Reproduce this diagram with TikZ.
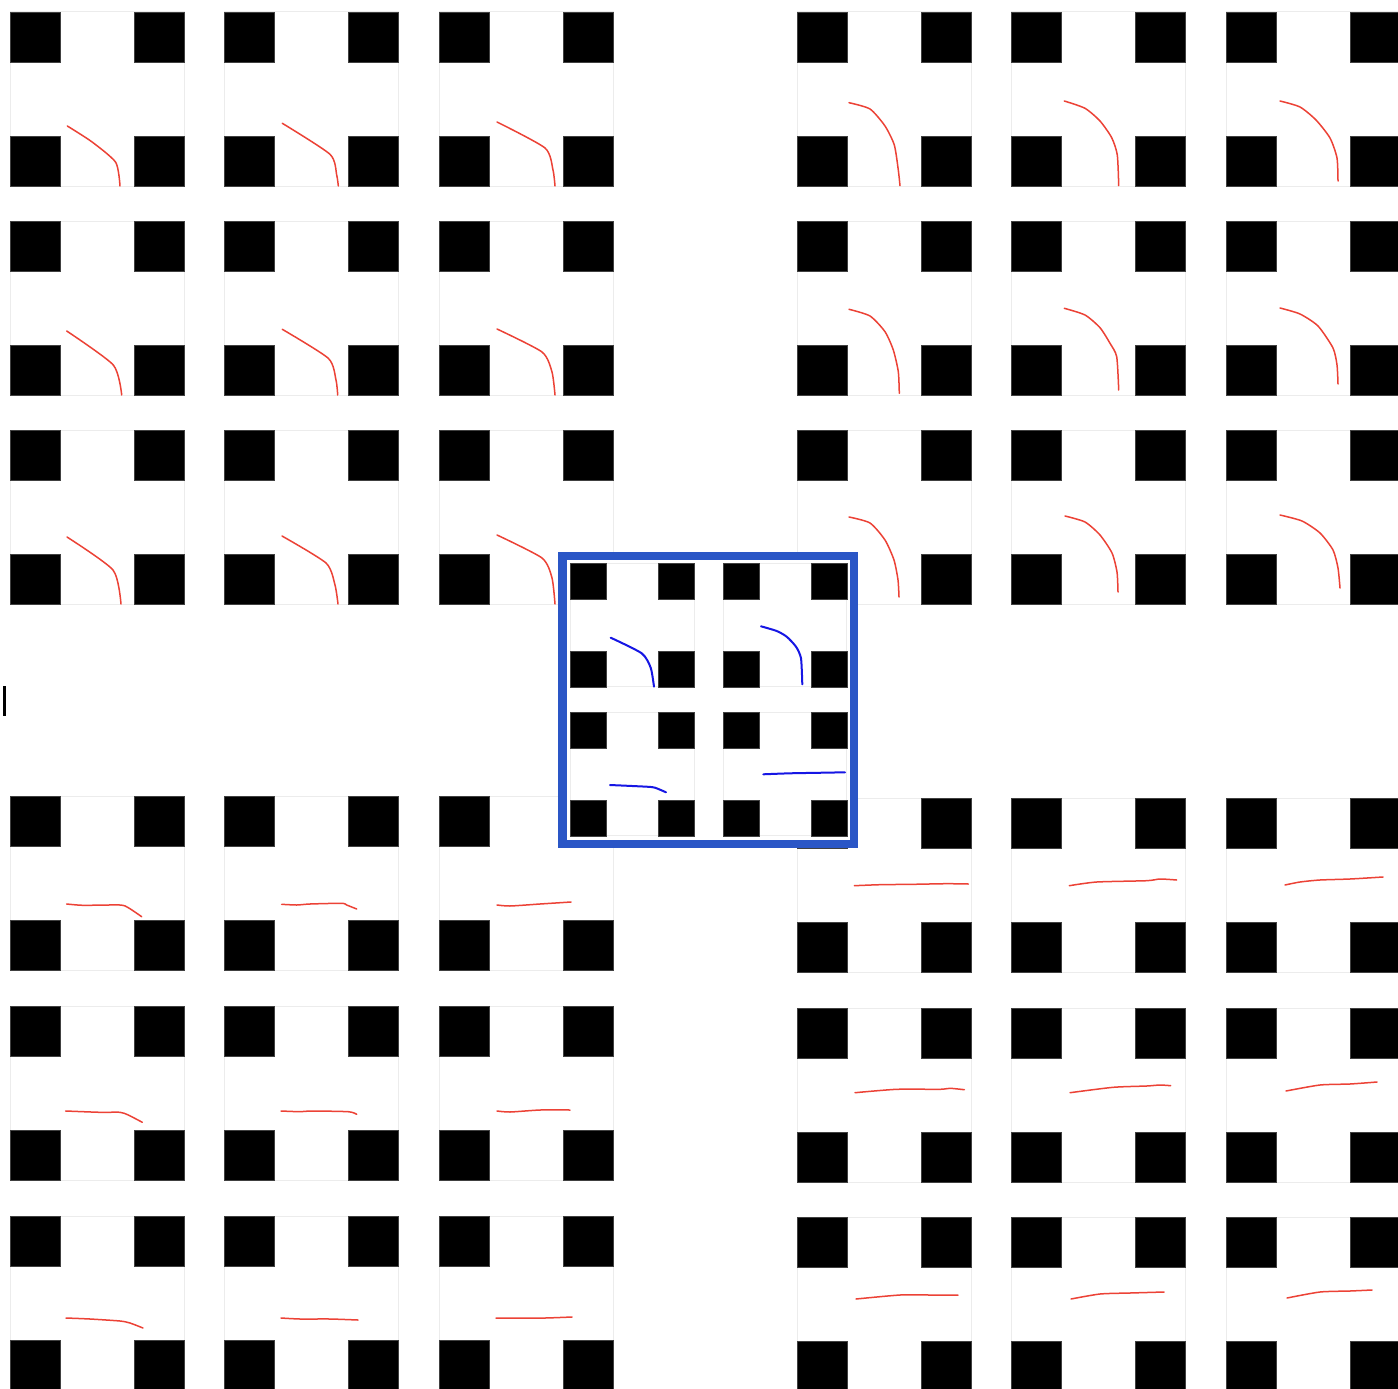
\documentclass[tikz,border=0pt]{standalone}
\usetikzlibrary{calc}
\definecolor{trail}{RGB}{236,66,54}
\definecolor{trailblue}{RGB}{22,22,228}
\definecolor{frameblue}{RGB}{42,86,198}
\definecolor{tileline}{RGB}{236,236,236}
\tikzset{
  tileedge/.style={draw=tileline,line width=1pt},
  blocksq/.style={fill=black,draw=black!75,line width=0.6pt},
  redpath/.style={draw=trail,line width=1.5pt,line join=round,line cap=round},
  bluepath/.style={draw=trailblue,line width=2pt,line join=round,line cap=round},
  selbox/.style={draw=frameblue,fill=white,line width=8.5pt}
}
\newcommand\mytile[3]{%
  \draw[tileedge] (#1,#2) rectangle ++(#3,#3);
  \pgfmathsetmacro\mysq{#3*0.2874}%
  \pgfmathsetmacro\myoff{#3-\mysq}%
  \path[blocksq] (#1,#2) rectangle ++(\mysq,\mysq);
  \path[blocksq] ($(#1,#2)+(\myoff,0)$) rectangle ++(\mysq,\mysq);
  \path[blocksq] ($(#1,#2)+(0,\myoff)$) rectangle ++(\mysq,\mysq);
  \path[blocksq] ($(#1,#2)+(\myoff,\myoff)$) rectangle ++(\mysq,\mysq);
}
\begin{document}
\begin{tikzpicture}[x=1pt,y=-1pt]
\useasboundingbox[fill=white] (0,0) rectangle (1398,1389);
% tiles: four groups of 3x3
\foreach \tx in {10,224.7,439.3}{\foreach \ty in {12,221,430}{\mytile{\tx}{\ty}{174}}}
\foreach \tx in {797,1011.3,1226}{\foreach \ty in {12,221,430}{\mytile{\tx}{\ty}{174}}}
\foreach \tx in {10,224.7,439.3}{\foreach \ty in {796.7,1006.7,1216}{\mytile{\tx}{\ty}{174}}}
\foreach \tx in {797,1011.3,1226}{\foreach \ty in {798.7,1008,1217}{\mytile{\tx}{\ty}{174}}}
% red trajectories, top-left group
\draw[redpath] plot[smooth,tension=0.4] coordinates {(67.3,126) (91.7,141.7) (115.7,162.3) (120,186)};
\draw[redpath] plot[smooth,tension=0.4] coordinates {(282.3,123.3) (330,154.3) (336.7,175) (338.3,186)};
\draw[redpath] plot[smooth,tension=0.4] coordinates {(497,122) (545,148) (553,170) (555,186)};
\draw[redpath] plot[smooth,tension=0.4] coordinates {(66.7,331) (113.3,365) (121.7,395)};
\draw[redpath] plot[smooth,tension=0.4] coordinates {(282.3,329.3) (328.3,358.3) (336,380) (337.7,395)};
\draw[redpath] plot[smooth,tension=0.4] coordinates {(497,329) (542,352) (552,372) (555,395)};
\draw[redpath] plot[smooth,tension=0.4] coordinates {(67,537) (113,570) (121,604)};
\draw[redpath] plot[smooth,tension=0.4] coordinates {(282,536) (326,563) (335,585) (338,604)};
\draw[redpath] plot[smooth,tension=0.4] coordinates {(497,535) (542,558) (552,578) (555,604)};
% top-right group
\draw[redpath] plot[smooth,tension=0.4] coordinates {(849,102.7) (870,109) (885,126) (894.3,145) (898.3,170) (900,185.7)};
\draw[redpath] plot[smooth,tension=0.4] coordinates {(1064.3,101) (1085,108.3) (1100,121) (1111.7,137.7) (1117.3,155) (1118.7,185.7)};
\draw[redpath] plot[smooth,tension=0.4] coordinates {(1280,101) (1300,107) (1316,120) (1330,138) (1337,158) (1338,181)};
\draw[redpath] plot[smooth,tension=0.4] coordinates {(849,309.3) (870,316) (885,331.7) (893.3,350) (898.3,371.7) (899.3,393.3)};
\draw[redpath] plot[smooth,tension=0.4] coordinates {(1064.3,308.3) (1085,315) (1100,327.7) (1110,343.3) (1116.7,356.7) (1118.7,390)};
\draw[redpath] plot[smooth,tension=0.4] coordinates {(1280,308) (1300,314) (1318,326) (1333,348) (1337,365) (1338,384)};
\draw[redpath] plot[smooth,tension=0.4] coordinates {(849,517) (870,523) (885,540) (894,560) (898,580) (899,597)};
\draw[redpath] plot[smooth,tension=0.4] coordinates {(1065,516) (1085,522) (1100,535) (1112,553) (1117,572) (1118,592)};
\draw[redpath] plot[smooth,tension=0.4] coordinates {(1280,515) (1302,521) (1320,533) (1333,550) (1338,568) (1340,588)};
% bottom-left group
\draw[redpath] plot[smooth,tension=0.4] coordinates {(66.7,904) (83.3,905.3) (120,905) (128.3,907.7) (141.7,916.7)};
\draw[redpath] plot[smooth,tension=0.4] coordinates {(281.7,904.3) (296.7,905) (310,904) (341.7,903.3) (346.7,905) (356.7,909)};
\draw[redpath] plot[smooth,tension=0.4] coordinates {(497,905) (510,906) (540,904) (571,902)};
\draw[redpath] plot[smooth,tension=0.4] coordinates {(65.7,1111) (100,1112.3) (120,1112.3) (128.3,1115) (142.3,1122.3)};
\draw[redpath] plot[smooth,tension=0.4] coordinates {(281,1111) (300,1111.7) (311.7,1111) (348.3,1111.7) (356.7,1114.3)};
\draw[redpath] plot[smooth,tension=0.4] coordinates {(497,1111) (510,1112) (540,1110) (570,1110)};
\draw[redpath] plot[smooth,tension=0.4] coordinates {(66,1318) (90,1319) (120,1321) (130,1323) (143,1328)};
\draw[redpath] plot[smooth,tension=0.4] coordinates {(281,1318) (300,1319) (330,1319) (358,1320)};
\draw[redpath] plot[smooth,tension=0.4] coordinates {(496,1318) (515,1318) (545,1318) (572,1317)};
% bottom-right group
\draw[redpath] plot[smooth,tension=0.4] coordinates {(854.3,885.7) (880,884.7) (913.3,884.3) (946.7,883.7) (968.3,884)};
\draw[redpath] plot[smooth,tension=0.4] coordinates {(1069.3,885.7) (1096.7,882) (1146.7,880.7) (1160,879) (1176.7,880)};
\draw[redpath] plot[smooth,tension=0.4] coordinates {(1285,885) (1300,882) (1320,880) (1350,879) (1383,877)};
\draw[redpath] plot[smooth,tension=0.4] coordinates {(855,1092.7) (896.7,1089.3) (940,1089.3) (950,1088.3) (964.3,1089.7)};
\draw[redpath] plot[smooth,tension=0.4] coordinates {(1070,1092.7) (1113.3,1087.3) (1146.7,1086) (1160,1085) (1170.7,1085.7)};
\draw[redpath] plot[smooth,tension=0.4] coordinates {(1286,1091) (1320,1085) (1350,1084) (1377,1082)};
\draw[redpath] plot[smooth,tension=0.4] coordinates {(856,1299) (900,1295) (930,1295) (958,1295)};
\draw[redpath] plot[smooth,tension=0.4] coordinates {(1071,1299) (1100,1294) (1130,1293) (1164,1292)};
\draw[redpath] plot[smooth,tension=0.4] coordinates {(1287,1298) (1320,1292) (1350,1291) (1372,1290)};
% cursor bar
\fill[black] (3,686) rectangle (6,716);
% central selection box
\path[selbox] (562.5,556) rectangle (854,844);
\mytile{570.7}{563.3}{123.6}
\mytile{723.3}{563.3}{123.6}
\mytile{570.7}{712.3}{123.6}
\mytile{723.3}{712.3}{123.6}
\draw[bluepath] plot[smooth,tension=0.4] coordinates {(610.7,637.7) (641.7,653.3) (650.7,667.7) (654,686.7)};
\draw[bluepath] plot[smooth,tension=0.4] coordinates {(761,626.3) (776.7,631) (786.7,636.7) (796,646.7) (801,658.3) (802.3,684.3)};
\draw[bluepath] plot[smooth,tension=0.4] coordinates {(610,785) (646.7,786.7) (655,787.7) (666,792.3)};
\draw[bluepath] plot[smooth,tension=0.4] coordinates {(763.3,774.3) (790,773.3) (823.3,772.7) (845,772.3)};
\end{tikzpicture}
\end{document}
